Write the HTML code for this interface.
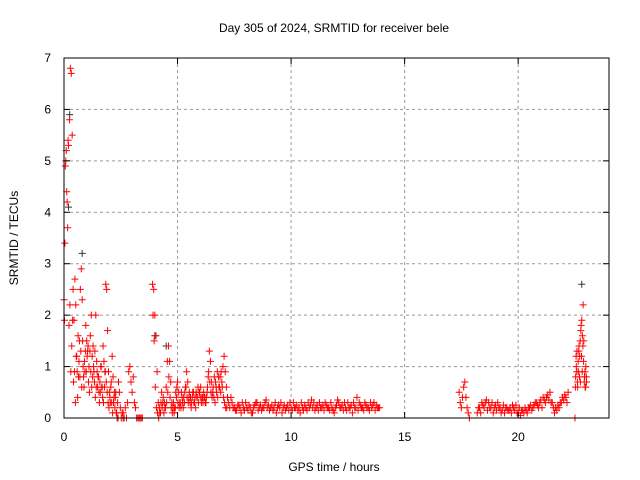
<!DOCTYPE html>
<html><head><meta charset="utf-8"><style>
body{margin:0;background:#fff}
svg{display:block;font-family:"Liberation Sans",sans-serif;font-size:12px}
</style></head><body>
<svg id="chart" width="640" height="480" viewBox="0 0 640 480">
<rect width="640" height="480" fill="#fff"/>
<g id="grid"></g>
<g id="pts"></g>
<rect x="64" y="58" width="545" height="360" fill="none" stroke="#000"/>
<g id="ticks"></g>
<text x="334" y="32" text-anchor="middle">Day 305 of 2024, SRMTID for receiver bele</text>
<text x="334" y="471" text-anchor="middle">GPS time / hours</text>
<text x="18" y="238" text-anchor="middle" transform="rotate(-90 18 238)">SRMTID / TECUs</text>
</svg>
<script>
const xTicks=[0,5,10,15,20];
const yTicks=[0,1,2,3,4,5,6,7];
const segStarts=[0,2.6,3.9,7.5,17.4,18.2,22.5,0.02,3.92,7.55,18.25,22.52];
const segSteps=[0.04,0.05,0.05,0.1,0.05,0.1,0.03,0.04,0.05,0.1,0.1,0.03];
const segA=[2.3,3.4,5.0,4.4,3.7,5.3,5.8,6.8,6.7,5.5,2.5,1.9,2.7,2.2,1.2,0.4,0.8,1.5,2.5,2.9,2.3,1.0,0.6,0.9,1.8,1.5,1.3,0.7,0.5,1.6,2.0,1.2,1.4,0.9,1.3,2.0,1.1,0.6,0.8,0.3,0.5,1.0,0.6,1.4,1.1,0.9,2.6,2.5,1.7,0.9,0.5,0.3,0.7,1.2,0.8,0.4,0.2,0.5,0.1,0.3,0.7,0.5,0.2,0.0,0.1,0.0];
const segB=[0.1,0.0,0.2,0.0,0.3,0.9,1.0,0.7,0.5,0.8,0.3,0.2,0.0,0.0,0.0,0.0,0.0,0.0];
const segC=[2.6,2.5,2.0,1.6,0.9,0.3,0.2,0.1,0.5,0.3,0.1,0.2,0.6,1.1,1.4,1.1,0.7,0.3,0.2,0.1,0.2,0.4,0.7,0.5,0.3,0.2,0.4,0.2,0.3,0.6,0.9,0.7,0.4,0.3,0.2,0.4,0.5,0.3,0.2,0.4,0.6,0.5,0.4,0.3,0.4,0.5,0.4,0.3,0.5,0.8,1.3,1.1,0.7,0.5,0.4,0.3,0.6,0.9,0.8,0.6,0.5,0.7,1.0,1.2,0.9,0.6,0.4,0.3,0.2,0.4,0.3,0.2];
const segD=[0.2,0.15,0.25,0.1,0.2,0.3,0.15,0.2,0.1,0.25,0.3,0.2,0.15,0.2,0.35,0.25,0.2,0.15,0.3,0.2,0.2,0.1,0.25,0.2,0.15,0.2,0.3,0.2,0.15,0.1,0.2,0.25,0.15,0.2,0.35,0.3,0.2,0.15,0.2,0.25,0.3,0.2,0.15,0.2,0.1,0.25,0.3,0.2,0.15,0.2,0.3,0.2,0.1,0.2,0.4,0.3,0.2,0.15,0.25,0.2,0.3,0.25,0.15,0.2,0.2];
const segE=[0.5,0.3,0.2,0.4,0.6,0.7,0.4,0.2,0.1,0.0];
const segF=[0.1,0.2,0.3,0.2,0.35,0.3,0.2,0.1,0.25,0.3,0.2,0.15,0.1,0.2,0.15,0.1,0.2,0.25,0.1,0.05,0.15,0.2,0.1,0.2,0.15,0.25,0.3,0.2,0.35,0.4,0.3,0.45,0.5,0.3,0.1,0.15,0.2,0.3,0.35,0.4,0.5];
const segG=[0.0,0.8,1.0,1.3,0.6,0.9,1.4,1.2,0.7,1.8,1.9,1.6,2.2,1.5,0.8,0.6,1.0,0.7];
const segA2=[1.9,4.9,5.2,4.2,5.4,1.8,2.2,0.9,1.4,1.9,0.7,0.9,0.3,1.2,0.9,1.6,1.1,0.8,1.3,0.6,1.5,0.8,1.1,1.3,0.9,1.2,1.4,1.0,1.3,0.9,0.6,0.8,1.0,0.7,0.4,0.6,0.9,0.8,0.5,0.7,1.0,0.6,0.4,0.3,0.6,0.9,0.7,0.5,0.3,0.2,0.4,0.6,0.3,0.1,0.3,0.5,0.4,0.1,0.0,0.0];
const segC2=[2.0,1.5,0.6,0.2,0.1,0.0,0.1,0.3,0.2,0.4,0.3,0.2,0.3,0.5,0.8,0.4,0.2,0.1,0.3,0.2,0.5,0.6,0.3,0.2,0.3,0.5,0.3,0.4,0.5,0.6,0.4,0.3,0.5,0.4,0.3,0.5,0.3,0.4,0.5,0.4,0.3,0.5,0.6,0.4,0.3,0.4,0.3,0.4,0.6,0.9,0.7,0.5,0.4,0.6,0.8,0.7,0.5,0.4,0.6,0.8,0.9,0.6,0.4,0.3,0.2,0.2];
const segD2=[0.15,0.25,0.2,0.3,0.15,0.2,0.25,0.1,0.2,0.3,0.15,0.25,0.2,0.3,0.2,0.15,0.25,0.2,0.1,0.25,0.3,0.2,0.15,0.25,0.3,0.15,0.2,0.25,0.2,0.3,0.15,0.2,0.3,0.25,0.2,0.15,0.25,0.3,0.2,0.15,0.25,0.2,0.3,0.15,0.2,0.35,0.2,0.25,0.3,0.15,0.2,0.25,0.3,0.2,0.15,0.25,0.2,0.3,0.2,0.15,0.2,0.3,0.25,0.2];
const segF2=[0.2,0.1,0.25,0.3,0.15,0.2,0.3,0.2,0.15,0.2,0.1,0.25,0.2,0.15,0.2,0.25,0.15,0.1,0.2,0.15,0.1,0.15,0.2,0.25,0.2,0.3,0.25,0.3,0.2,0.35,0.4,0.35,0.3,0.2,0.2,0.25,0.3,0.4,0.45,0.3];
const segG2=[0.6,1.2,0.9,0.7,1.1,1.3,0.8,1.5,1.7,1.2,0.9,1.4,1.1,0.7,0.9,0.6,0.8];
const darkTimes=[0.2,0.25,0.8,4.0,4.5,22.8];
const darkValues=[4.1,5.9,3.2,1.6,1.4,2.6];
const segs=[segA,segB,segC,segD,segE,segF,segG,segA2,segC2,segD2,segF2,segG2];
const NS='http://www.w3.org/2000/svg';
const X=t=>64+t*545/24, Y=v=>418-v*360/7;
const grid=document.getElementById('grid'),ticks=document.getElementById('ticks'),pts=document.getElementById('pts');
function mk(tag,attrs,parent){const e=document.createElementNS(NS,tag);for(const k in attrs)e.setAttribute(k,attrs[k]);parent.appendChild(e);return e;}
xTicks.forEach(t=>{const x=X(t);
 if(t>0){const g=mk('line',{x1:x,x2:x,y1:58,y2:418,stroke:'#999','stroke-dasharray':'3,3'},grid);
 
 }
 const a=mk('line',{x1:x,x2:x,y1:418,y2:412,stroke:'#000'},ticks);
 
 
 const b=mk('line',{x1:x,x2:x,y1:58,y2:64,stroke:'#000'},ticks);
 
 
 const l=mk('text',{x:x,y:441,'text-anchor':'middle'},ticks);l.textContent=t;
 
 });
yTicks.forEach(v=>{const y=Y(v);
 if(v>0&&v<7){const g=mk('line',{x1:64,x2:609,y1:y,y2:y,stroke:'#999','stroke-dasharray':'3,3'},grid);
 
 }
 const a=mk('line',{x1:64,x2:70,y1:y,y2:y,stroke:'#000'},ticks);
 
 
 const b=mk('line',{x1:603,x2:609,y1:y,y2:y,stroke:'#000'},ticks);
 
 
 const l=mk('text',{x:51,y:y+4,'text-anchor':'end'},ticks);l.textContent=v;
 
 });
function plus(t,v,col){const x=X(t),y=Y(v);
 const p=mk('path',{d:`M${x-3.5},${y}h7M${x},${y-3.5}v7`,stroke:col,'stroke-width':1,fill:'none'},pts);
 
 }
darkTimes.forEach((t,i)=>plus(t,darkValues[i],'#333'));
segs.forEach((s,si)=>s.forEach((v,i)=>plus(segStarts[si]+i*segSteps[si],v,'#f00')));
</script>
</body></html>
